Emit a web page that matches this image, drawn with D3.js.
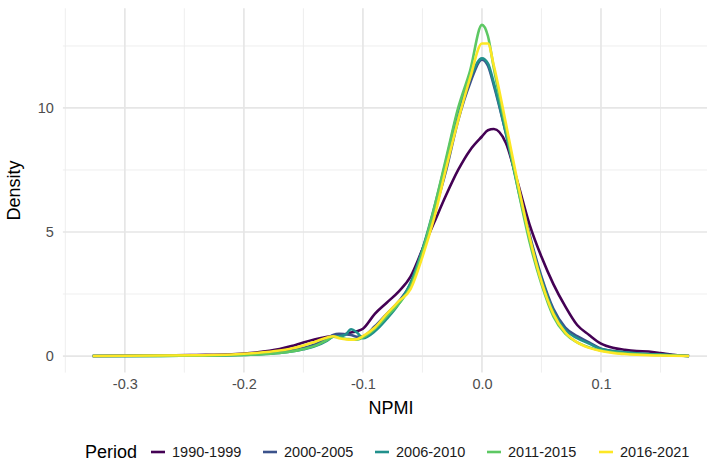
<!DOCTYPE html>
<html>
  <head>
    <meta charset="utf-8">
    <title>NPMI density by period</title>
    <script src="https://d3js.org/d3.v7.min.js"></script>
    <style type="text/css">
      body {
        margin: 0;
        background: #ffffff;
        font-family: 'Liberation Sans', Arial, sans-serif;
      }
      svg {
        display: block;
      }
    </style>
  </head>
  <body>
    <div id="chart"></div>
    <script type="text/javascript">
      // density estimates, one array per period
      var npmi = [-0.327, -0.30, -0.27, -0.24, -0.21, -0.19, -0.17, -0.16, -0.15, -0.14, -0.13, -0.125, -0.12, -0.115, -0.11, -0.105, -0.10, -0.09, -0.08, -0.07, -0.06, -0.05, -0.04, -0.03, -0.02, -0.01, 0.0, 0.005, 0.01, 0.02, 0.03, 0.04, 0.05, 0.06, 0.07, 0.08, 0.09, 0.10, 0.11, 0.12, 0.13, 0.14, 0.15, 0.16, 0.174];

      var periods = ['1990-1999', '2000-2005', '2006-2010', '2011-2015', '2016-2021'];
      var colors = ['#440154', '#3B528B', '#21908C', '#5DC863', '#FDE725'];

      var d1990 = [0, 0.01, 0.02, 0.04, 0.07, 0.14, 0.28, 0.40, 0.55, 0.68, 0.78, 0.82, 0.85, 0.88, 0.95, 1.0, 1.1, 1.7, 2.15, 2.6, 3.2, 4.3, 5.4, 6.5, 7.5, 8.3, 8.85, 9.1, 9.15, 8.6, 7.0, 5.3, 4.0, 2.9, 2.0, 1.25, 0.85, 0.5, 0.33, 0.25, 0.2, 0.18, 0.12, 0.05, 0];
      var d2000 = [0, 0.005, 0.01, 0.02, 0.04, 0.08, 0.15, 0.22, 0.32, 0.48, 0.70, 0.85, 0.90, 0.88, 0.85, 0.78, 0.80, 1.2, 1.7, 2.2, 2.9, 4.3, 5.8, 7.5, 9.5, 11.0, 11.95, 11.7, 10.9, 9.0, 6.9, 4.9, 3.2, 1.9, 1.15, 0.8, 0.55, 0.3, 0.2, 0.15, 0.1, 0.07, 0.05, 0.03, 0];
      var d2006 = [0, 0.003, 0.008, 0.015, 0.03, 0.06, 0.12, 0.18, 0.27, 0.40, 0.62, 0.78, 0.80, 0.85, 1.08, 0.95, 0.72, 1.0, 1.5, 2.1, 2.95, 4.3, 6.0, 7.9, 9.9, 11.2, 12.0, 11.8, 11.0, 9.0, 6.8, 4.8, 3.1, 1.8, 1.05, 0.72, 0.5, 0.28, 0.2, 0.15, 0.11, 0.08, 0.06, 0.04, 0];
      var d2011 = [0, 0.003, 0.008, 0.015, 0.03, 0.06, 0.12, 0.18, 0.28, 0.42, 0.65, 0.78, 0.75, 0.70, 0.68, 0.66, 0.75, 1.1, 1.6, 2.1, 2.8, 4.2, 6.0, 8.0, 10.0, 11.5, 13.35, 12.9, 11.6, 9.2, 6.8, 4.6, 2.9, 1.6, 0.9, 0.55, 0.35, 0.22, 0.15, 0.1, 0.07, 0.05, 0.04, 0.02, 0];
      var d2016 = [0, 0.01, 0.02, 0.03, 0.06, 0.12, 0.22, 0.30, 0.42, 0.58, 0.75, 0.80, 0.72, 0.68, 0.66, 0.68, 0.80, 1.15, 1.7, 2.2, 2.7, 4.0, 5.6, 7.6, 9.5, 11.2, 12.6, 12.6, 11.7, 9.4, 7.0, 4.8, 3.0, 1.7, 0.95, 0.55, 0.33, 0.2, 0.12, 0.08, 0.05, 0.03, 0.02, 0.01, 0];

      var series = [d1990, d2000, d2006, d2011, d2016];

      var xTicks = [-0.3, -0.2, -0.1, 0.0, 0.1];
      var xMinor = [-0.35, -0.25, -0.15, -0.05, 0.05, 0.15];
      var yTicks = [0, 5, 10];
      var yMinor = [2.5, 7.5, 12.5];

      function drawChart () {
        var width = 707;
        var height = 467;
        var svg = d3.select('#chart').append('svg')
          .attr('width', width)
          .attr('height', height);

        // ggplot style 5% expansion on both axes
        var xExt = d3.extent(npmi);
        var xPad = (xExt[1] - xExt[0]) * 0.05;
        var yMax = d3.max(series, function (s) { return d3.max(s); });

        var x = d3.scaleLinear()
          .domain([xExt[0] - xPad, xExt[1] + xPad])
          .range([62.9, 718.9]);

        var y = d3.scaleLinear()
          .domain([-yMax * 0.05, yMax * 1.05])
          .range([372.6, 8.3]);

        var panel = svg.append('g');

        panel.selectAll('.xminor')
          .data(xMinor)
          .enter()
          .append('line')
            .attr('x1', function (d) { return x(d); })
            .attr('x2', function (d) { return x(d); })
            .attr('y1', y.range()[0])
            .attr('y2', y.range()[1])
            .attr('stroke', '#ececec')
            .attr('stroke-width', 0.9);

        panel.selectAll('.yminor')
          .data(yMinor)
          .enter()
          .append('line')
            .attr('x1', x.range()[0])
            .attr('x2', x.range()[1])
            .attr('y1', function (d) { return y(d); })
            .attr('y2', function (d) { return y(d); })
            .attr('stroke', '#ececec')
            .attr('stroke-width', 0.9);

        panel.selectAll('.xmajor')
          .data(xTicks)
          .enter()
          .append('line')
            .attr('x1', function (d) { return x(d); })
            .attr('x2', function (d) { return x(d); })
            .attr('y1', y.range()[0])
            .attr('y2', y.range()[1])
            .attr('stroke', '#e6e6e6')
            .attr('stroke-width', 1.7);

        panel.selectAll('.ymajor')
          .data(yTicks)
          .enter()
          .append('line')
            .attr('x1', x.range()[0])
            .attr('x2', x.range()[1])
            .attr('y1', function (d) { return y(d); })
            .attr('y2', function (d) { return y(d); })
            .attr('stroke', '#e6e6e6')
            .attr('stroke-width', 1.7);

        // axes: text only, no domain line, no ticks
        var xAxis = d3.axisBottom(x)
          .tickValues(xTicks)
          .tickFormat(d3.format('.1f'))
          .tickSize(0)
          .tickPadding(0);

        var gx = svg.append('g')
          .attr('transform', 'translate(0,' + 379 + ')')
          .call(xAxis);
        gx.select('.domain').remove();
        gx.selectAll('text')
          .attr('dy', '0.71em')
          .attr('fill', '#4d4d4d')
          .style('font-family', "'Liberation Sans', Arial, sans-serif")
          .style('font-size', '14.5px')
          .text(function (d) { return d3.format('.1f')(d).replace('\u2212', '-'); });

        var yAxis = d3.axisLeft(y)
          .tickValues(yTicks)
          .tickFormat(d3.format('d'))
          .tickSize(0)
          .tickPadding(9);

        var gy = svg.append('g')
          .attr('transform', 'translate(' + 62.9 + ',0)')
          .call(yAxis);
        gy.select('.domain').remove();
        gy.selectAll('text')
          .attr('fill', '#4d4d4d')
          .style('font-family', "'Liberation Sans', Arial, sans-serif")
          .style('font-size', '14.5px');

        svg.append('text')
          .attr('x', (x.range()[0] + x.range()[1]) / 2)
          .attr('y', 414)
          .attr('text-anchor', 'middle')
          .style('font-size', '18px')
          .text('NPMI');

        svg.append('text')
          .attr('transform', 'translate(20,' + (y.range()[0] + y.range()[1]) / 2 + ') rotate(-90)')
          .attr('text-anchor', 'middle')
          .style('font-size', '18px')
          .text('Density');

        var line = d3.line()
          .x(function (d, i) { return x(npmi[i]); })
          .y(function (d) { return y(d); })
          .curve(d3.curveMonotoneX);

        svg.append('g').selectAll('path')
          .data(series)
          .enter()
          .append('path')
            .attr('d', line)
            .attr('fill', 'none')
            .attr('stroke', function (d, i) { return colors[i]; })
            .attr('stroke-width', 2.6)
            .attr('stroke-linejoin', 'round')
            .attr('stroke-linecap', 'butt');

        // legend along the bottom
        var legend = svg.append('g')
          .attr('transform', 'translate(0,' + 452 + ')');

        legend.append('text')
          .attr('x', 85)
          .attr('dy', '0.35em')
          .style('font-size', '18px')
          .text('Period');

        var keyX = [151, 263, 375, 487, 599];

        var items = legend.selectAll('.item')
          .data(periods)
          .enter()
          .append('g')
            .attr('transform', function (d, i) { return 'translate(' + keyX[i] + ',0)'; });

        items.append('line')
          .attr('x1', 0)
          .attr('x2', 14)
          .attr('stroke', function (d, i) { return colors[i]; })
          .attr('stroke-width', 2.6);

        items.append('text')
          .attr('x', 21)
          .attr('dy', '0.35em')
          .attr('fill', '#1a1a1a')
          .style('font-size', '14.5px')
          .text(function (d) { return d; });
      }

      drawChart();
    </script>
  </body>
</html>
